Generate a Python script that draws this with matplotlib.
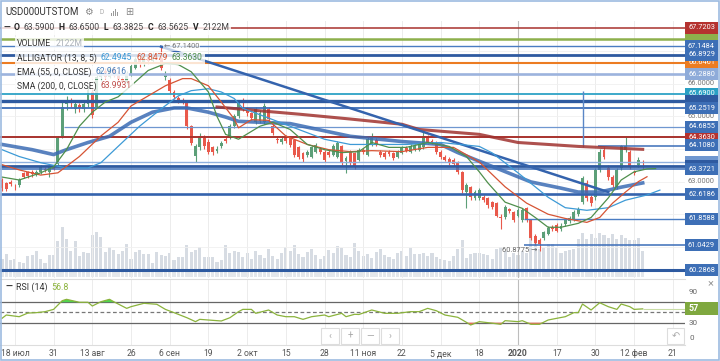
import matplotlib
matplotlib.use('Agg')
import numpy as np
import matplotlib.pyplot as plt
from matplotlib.patches import Rectangle
from matplotlib import transforms

plt.rcParams['font.family'] = ['Roboto', 'DejaVu Sans']

# daily candles USD000UTSTOM, 15 Jul 2019 .. 14 Feb 2020
opens = [
    63.05, 62.95, 62.98, 62.85, 62.90, 63.25, 63.28, 63.30, 63.22, 63.28,
    63.40, 63.30, 63.45, 63.55, 64.40, 65.38, 65.45, 65.23, 65.35, 65.23,
    65.38, 65.75, 65.30, 66.20, 66.38, 66.22, 66.45, 66.30, 66.15, 66.05,
    66.30, 66.50, 66.75, 66.60, 66.82, 66.70, 66.88, 66.80, 66.22, 66.12,
    65.75, 65.55, 65.50, 65.44, 64.70, 63.80, 64.05, 64.35, 64.23, 64.05,
    63.95, 64.08, 64.30, 64.35, 64.70, 65.00, 65.30, 65.20, 65.10, 64.82,
    64.85, 64.82, 65.23, 64.70, 64.32, 64.22, 64.34, 64.35, 64.28, 64.05,
    63.88, 63.82, 63.77, 63.92, 64.00, 63.92, 63.92, 63.83, 63.77, 64.08,
    63.62, 63.92, 63.88, 63.67, 63.98, 63.83, 64.14, 64.28, 63.92, 63.88,
    63.92, 63.88, 63.77, 63.88, 64.02, 63.92, 64.00, 63.98, 64.05, 64.36,
    64.25, 64.20, 63.92, 63.77, 63.70, 63.67, 63.58, 63.30, 62.68, 62.83,
    62.50, 62.50, 62.52, 62.49, 62.37, 62.33, 61.93, 61.90, 62.15, 62.06,
    61.96, 61.81, 62.18, 61.81, 61.34, 61.20, 61.28, 61.40, 61.62, 61.66,
    61.55, 61.70, 61.78, 61.85, 62.00, 62.37, 62.97, 62.52, 62.52, 63.36,
    63.98, 63.42, 63.14, 62.83, 63.42, 63.98, 63.92, 63.30, 63.52, 63.59,
]
highs = [
    63.10, 63.00, 63.05, 62.92, 63.10, 63.30, 63.33, 63.36, 63.35, 63.50,
    63.46, 63.52, 63.50, 64.40, 65.45, 65.62, 65.55, 65.45, 65.42, 65.45,
    65.90, 65.85, 66.30, 66.45, 66.48, 66.55, 66.52, 66.38, 66.22, 66.38,
    66.62, 66.82, 66.85, 66.92, 66.90, 66.98, 66.95, 67.14, 66.40, 66.18,
    65.82, 65.62, 65.58, 65.48, 64.75, 64.15, 64.48, 64.42, 64.30, 64.10,
    64.08, 64.26, 64.36, 64.76, 65.08, 65.45, 65.55, 65.28, 65.15, 65.30,
    65.20, 65.40, 65.28, 64.76, 64.40, 64.40, 64.42, 64.40, 64.32, 64.10,
    63.92, 63.96, 64.10, 64.20, 64.06, 63.96, 63.98, 64.14, 64.26, 64.12,
    63.78, 63.96, 63.92, 64.04, 64.04, 64.36, 64.50, 64.34, 63.98, 63.94,
    63.98, 63.92, 63.98, 64.08, 64.08, 64.14, 64.14, 64.20, 64.52, 64.42,
    64.30, 64.24, 63.96, 63.82, 63.75, 63.72, 63.62, 63.34, 62.96, 62.88,
    62.74, 62.80, 62.58, 62.54, 62.42, 62.38, 62.00, 62.28, 62.20, 62.10,
    62.18, 62.18, 62.22, 61.85, 61.40, 61.26, 61.50, 61.65, 61.68, 61.72,
    61.72, 61.88, 61.94, 62.12, 62.22, 63.18, 63.05, 62.60, 63.42, 64.00,
    64.05, 63.50, 63.20, 63.42, 64.12, 64.36, 63.98, 63.36, 63.74, 63.65,
]
lows = [
    62.72, 62.70, 62.88, 62.75, 62.85, 63.10, 63.12, 63.15, 63.18, 63.24,
    63.30, 63.14, 63.35, 63.50, 64.35, 65.20, 65.28, 65.10, 65.15, 65.15,
    65.30, 64.95, 65.25, 66.10, 66.15, 66.18, 66.22, 66.05, 65.95, 66.00,
    66.25, 66.45, 66.52, 66.55, 66.62, 66.65, 66.75, 66.42, 66.12, 65.70,
    65.52, 65.42, 65.38, 64.62, 64.12, 63.60, 63.98, 64.00, 63.85, 63.82,
    63.88, 64.02, 64.18, 64.30, 64.65, 64.95, 65.18, 65.02, 64.88, 64.78,
    64.80, 64.78, 64.85, 64.42, 64.20, 64.16, 64.18, 64.05, 63.76, 63.70,
    63.60, 63.76, 63.72, 63.88, 63.86, 63.60, 63.75, 63.78, 63.72, 63.50,
    63.27, 63.52, 63.40, 63.62, 63.84, 63.78, 64.08, 64.08, 63.76, 63.70,
    63.78, 63.66, 63.72, 63.84, 63.90, 63.88, 63.95, 63.94, 64.00, 64.16,
    64.16, 63.86, 63.70, 63.62, 63.52, 63.48, 63.24, 62.66, 62.18, 62.45,
    62.44, 62.45, 62.38, 62.20, 62.15, 61.90, 61.56, 61.85, 62.04, 61.76,
    61.90, 61.76, 61.75, 61.20, 61.05, 60.8775, 61.20, 61.35, 61.48, 61.44,
    61.50, 61.65, 61.72, 61.80, 61.95, 62.30, 62.40, 62.25, 62.45, 63.30,
    63.70, 63.05, 62.82, 62.76, 63.36, 63.90, 63.38, 63.20, 63.46, 63.3825,
]
closes = [
    62.80, 62.78, 62.94, 62.83, 63.05, 63.15, 63.18, 63.22, 63.30, 63.45,
    63.36, 63.48, 63.40, 64.35, 65.30, 65.50, 65.40, 65.38, 65.25, 65.38,
    65.80, 65.05, 66.20, 66.35, 66.22, 66.45, 66.30, 66.15, 66.05, 66.30,
    66.55, 66.75, 66.60, 66.85, 66.70, 66.90, 66.82, 66.50, 66.30, 65.78,
    65.60, 65.50, 65.45, 64.70, 64.20, 64.10, 64.40, 64.08, 63.92, 63.90,
    64.00, 64.20, 64.25, 64.70, 65.00, 65.40, 65.25, 65.10, 64.95, 65.23,
    65.12, 65.32, 64.92, 64.50, 64.28, 64.32, 64.25, 64.12, 63.83, 63.77,
    63.68, 63.90, 64.05, 64.13, 63.92, 63.67, 63.82, 64.08, 64.20, 63.58,
    63.72, 63.58, 63.45, 63.98, 63.90, 64.30, 64.36, 64.14, 63.83, 63.77,
    63.84, 63.73, 63.92, 64.02, 63.95, 64.08, 64.08, 64.14, 64.39, 64.23,
    64.22, 63.92, 63.77, 63.67, 63.58, 63.55, 63.30, 62.74, 62.90, 62.52,
    62.68, 62.74, 62.43, 62.27, 62.21, 61.96, 61.88, 62.21, 62.10, 61.81,
    62.12, 62.12, 61.81, 61.28, 61.12, 61.10, 61.44, 61.59, 61.55, 61.50,
    61.65, 61.81, 61.88, 62.06, 62.15, 63.10, 62.49, 62.33, 63.36, 63.92,
    63.77, 63.14, 62.90, 63.36, 64.08, 64.08, 63.45, 63.27, 63.67, 63.5625,
]
# volume, millions
volumes = [
    1270, 1800, 1170, 1270, 950, 850, 1590, 1700, 2120, 1270,
    850, 1700, 1700, 3180, 4660, 3390, 2120, 3180, 1590, 2010,
    1910, 3820, 4130, 3600, 2010, 2540, 2230, 1800, 2120, 2860,
    1270, 2010, 2230, 1800, 1800, 850, 2010, 1700, 1590, 1910,
    1170, 1480, 1480, 2760, 2010, 2230, 2540, 1480, 1480, 1480,
    950, 1170, 2760, 1910, 2120, 2010, 1480, 1910, 1270, 2120,
    1700, 1380, 2330, 1590, 1270, 1910, 2540, 2120, 2760, 1800,
    1480, 2010, 2330, 1700, 1270, 1590, 2230, 1910, 2650, 2440,
    1700, 1480, 2970, 2120, 1590, 1800, 1380, 2010, 2330, 1700,
    1480, 1270, 1910, 2120, 1590, 2440, 1800, 1800, 1910, 1590,
    1910, 1480, 1270, 1170, 1060, 1590, 2330, 3290, 1380, 1800,
    1910, 1910, 1800, 1700, 1270, 2330, 2540, 2120, 1480, 1910,
    1700, 2120, 1910, 3500, 2970, 2330, 2440, 2860, 2860, 2440,
    1910, 2120, 2230, 2330, 3390, 4030, 3390, 3920, 3500, 4030,
    3820, 3500, 3920, 3390, 3820, 3500, 3290, 3290, 3500, 2122,
]

tick_bars = [3, 12, 21, 30, 39, 48, 57, 66, 75, 84, 93, 102, 111, 120, 129, 138, 147, 156]
tick_labels = ['18 июл', '31', '13 авг', '26', '6 сен', '19', '2 окт', '15', '28',
               '11 ноя', '22', '5 дек', '18', '2020', '17', '30', '12 фев', '21']

# alligator lines (already shifted)
lips_bar = [0, 4, 9, 12, 15, 18, 21, 24, 27, 30, 34, 38, 41, 44, 48, 50, 52, 55, 60, 63,
            67, 71, 75, 79, 83, 86, 90, 94, 99, 104, 108, 111, 113, 117, 121, 124, 127,
            130, 134, 137, 141, 144, 147, 150, 152]
lips_val = [63.14, 63.05, 63.27, 63.45, 63.98, 64.70, 65.13, 65.44, 65.60, 65.94, 66.41,
            66.62, 66.59, 66.37, 65.75, 65.00, 64.45, 64.30, 64.70, 64.82, 64.60, 64.14,
            63.98, 63.89, 63.92, 64.20, 64.05, 64.05, 64.20, 64.08, 63.77, 63.30, 62.96,
            62.37, 62.18, 61.90, 61.60, 61.60, 61.72, 61.90, 62.50, 63.05, 63.30, 63.39, 63.40]
teeth_bar = [0, 4, 9, 13, 18, 23, 27, 30, 34, 38, 42, 44, 48, 51, 54, 55, 58, 62, 66, 71,
             76, 81, 86, 93, 99, 105, 111, 117, 122, 127, 131, 136, 139, 142, 145, 148, 150]
teeth_val = [63.52, 63.36, 63.20, 63.27, 63.77, 64.40, 64.82, 65.32, 65.63, 65.94, 66.16,
             66.16, 65.94, 65.44, 64.92, 64.65, 64.90, 64.88, 64.40, 64.14, 63.98, 63.92,
             63.95, 63.92, 64.05, 64.05, 63.60, 62.84, 62.34, 62.00, 61.87, 61.75, 61.90,
             62.34, 62.68, 63.00, 63.15]
jaw_bar = [0, 4, 9, 15, 20, 23, 27, 32, 37, 41, 44, 48, 51, 54, 56, 62, 67, 75, 81, 88,
           94, 102, 111, 114, 120, 127, 131, 136, 141, 145, 150, 153]
jaw_val = [63.98, 63.77, 63.58, 63.42, 63.42, 63.58, 64.08, 64.70, 65.23, 65.63, 65.79,
           65.85, 65.75, 65.55, 65.25, 64.95, 64.70, 64.30, 64.14, 64.14, 64.14, 64.20,
           64.08, 63.88, 63.27, 62.52, 62.20, 62.12, 62.20, 62.43, 62.59, 62.74]

ema_bar = [0, 7, 12, 15, 20, 25, 30, 35, 40, 43, 48, 52, 55, 67, 81, 93, 102, 106, 116,
           123, 130, 134, 139, 144, 149]
ema_val = [64.14, 63.98, 63.83, 63.98, 64.20, 64.39, 64.82, 65.13, 65.26, 65.26, 65.13,
           64.98, 64.85, 64.78, 64.39, 64.23, 64.14, 63.89, 63.36, 62.99, 62.80, 62.68,
           62.68, 62.83, 62.96]
sma_bar = [50, 55, 69, 81, 93, 97, 111, 120, 134, 149]
sma_val = [65.29, 65.23, 65.07, 64.92, 64.76, 64.60, 64.45, 64.20, 64.08, 63.99]

trend_bar = [37, 141]
trend_val = [67.14, 62.68]

# horizontal levels drawn by the user
level_price = [67.7203, 67.37, 67.1484, 66.8929, 66.6461, 66.2880, 65.69, 65.48, 65.2519,
               64.6855, 64.3630, 64.1080, 63.61, 63.49, 63.3721, 62.6186, 61.8588, 61.0429,
               60.2868]
level_from = [0, 0, 0, 0, 0, 0, 0, 0, 0, 15, 0, 139, 0, 0, 0, 0, 122, 122, 0]

rsi_bar = [0, 1, 4, 6, 8, 10, 12, 14, 15, 18, 20, 21, 23, 25, 26, 29, 30, 33, 36, 38,
           40, 43, 45, 46, 48, 51, 53, 55, 56, 58, 59, 62, 64, 66, 68, 70, 72, 75, 76, 79,
           80, 82, 83, 86, 89, 92, 95, 97, 99, 101, 103, 106, 108, 109, 111, 113, 116, 117,
           120, 121, 123, 125, 127, 129, 131, 133, 134, 135, 137, 139, 141, 143, 144, 146,
           147, 149]
rsi_val = [38.5, 45, 41.7, 48.8, 49.6, 51.5, 56, 73, 75.7, 69.9, 69.9, 62.6, 71, 75.7, 71,
           58, 61.3, 67.9, 66, 56, 49.6, 39.7, 32, 36.5, 35.2, 33.3, 39.7, 51.5, 56, 56,
           48.3, 54.8, 45, 41.7, 41.7, 36.5, 41.7, 45, 41.7, 48.3, 41.7, 46.4, 46, 54.8,
           48.3, 48.3, 51.5, 51.5, 58, 53.4, 45, 40.5, 30.7, 25.4, 32, 30, 26.8, 33.9, 32,
           33.9, 26.8, 26.8, 35.2, 38.5, 41.7, 49.6, 49.6, 66.5, 54.8, 69, 61.3, 56, 66.5,
           61.3, 56, 57]

# ---------------- layout (pixels of a 720x361 canvas) ----------------
W, H = 720, 361
PRICE_TOP, PRICE_BOT = 21, 278
RSI_TOP, RSI_BOT = 280, 345
RIGHT = 685
X0, BAR = 2, 4.3
PPU = 32.6  # pixels per rouble
XLIM = ((0 - X0) / BAR, (RIGHT - X0) / BAR)
YLIM = (64.108 - (PRICE_BOT - 145.5) / PPU, 64.108 + (145.5 - PRICE_TOP) / PPU)

GREEN_C, RED_C = '#5c9f78', '#e9594b'
JAW_C, TEETH_C, LIPS_C = '#3d9ad6', '#d65434', '#4f8f4c'
BLUE_BOX, DARK = '#3d6fb6', '#2e5aa0'


def fx(px):
    return px / W


def fy(py):
    return 1 - py / H


fig = plt.figure(figsize=(W / 100, H / 100), dpi=100)
fig.patch.set_facecolor('white')

ax_vol = fig.add_axes([0, fy(PRICE_BOT), fx(RIGHT), (PRICE_BOT - PRICE_TOP) / H])
ax = fig.add_axes([0, fy(PRICE_BOT), fx(RIGHT), (PRICE_BOT - PRICE_TOP) / H])
ax_rsi = fig.add_axes([0, fy(RSI_BOT), fx(RIGHT), (RSI_BOT - RSI_TOP) / H])
ax.patch.set_visible(False)

x = np.arange(len(closes))
o, hi, lo, c = (np.array(a) for a in (opens, highs, lows, closes))

# volume + navigator strip
ax_vol.bar(x, volumes, width=0.72, color='#d7dce3', linewidth=0)
ax_vol.bar(x, 530, bottom=-636, width=0.8, color='#e4e7eb', linewidth=0)
ax_vol.set_xlim(XLIM)
ax_vol.set_ylim(-742, (271 - PRICE_TOP) * 106)
ax_vol.set_axis_off()

# grid
for b in tick_bars:
    ax.axvline(b, color='#ececec', lw=0.7, zorder=0)
    ax_rsi.axvline(b, color='#ececec', lw=0.7, zorder=0)
for p in range(61, 68):
    ax.axhline(p, color='#f0f0f0', lw=0.6, zorder=0)
ax.axvline(120, color='#bdbdbd', lw=0.8, zorder=1)
ax_rsi.axvline(120, color='#bdbdbd', lw=0.8, zorder=1)

# candles
col = np.where(c >= o, GREEN_C, RED_C)
ax.vlines(x, lo, hi, colors=col, lw=0.8, zorder=3)
ax.bar(x, np.maximum(np.abs(c - o), 0.015), bottom=np.minimum(o, c), width=0.68,
       color=col, linewidth=0, zorder=3)

# horizontal levels
level_color = ['#a8322d', '#8db04c', '#4a7cc2', DARK, '#ec7c22', '#9cb3dd', '#2da2c6', DARK,
               '#3b6db8', '#6f97d0', '#a8322d', '#3b6db8', '#8fb0de', DARK, '#3b6db8',
               '#3463ad', '#4a7cc2', '#3b6db8', DARK]
level_lw = [1.1, 1.8, 1.0, 2.0, 1.5, 1.9, 1.3, 2.4, 1.3, 0.9, 1.4, 1.1, 1.0, 2.0, 1.1,
            1.9, 1.0, 1.1, 2.2]
for p, s, cc, lw in zip(level_price, level_from, level_color, level_lw):
    ax.hlines(p, s - 0.5, XLIM[1], color=cc, lw=lw, zorder=4)
ax.vlines(135, 64.06, 65.78, color='#5a86c6', lw=1.0, zorder=4)

# indicators
ax.plot(sma_bar, sma_val, color='#a0322f', lw=2.2, alpha=0.85, zorder=5)
ax.plot(ema_bar, ema_val, color='#3c6cb4', lw=2.6, alpha=0.85, zorder=5)
ax.plot(trend_bar, trend_val, color='#3463ad', lw=1.8, zorder=5)
ax.plot(jaw_bar, jaw_val, color=JAW_C, lw=0.9, zorder=6)
ax.plot(teeth_bar, teeth_val, color=TEETH_C, lw=0.9, zorder=6)
ax.plot(lips_bar, lips_val, color=LIPS_C, lw=0.9, zorder=6)

ax.text(37.6, 67.14, '← 67.1400', fontsize=5.4, color='#777', va='center', ha='left', zorder=7,
        bbox=dict(boxstyle='square,pad=0.1', fc='white', ec='none', alpha=0.7))
ax.text(124.4, 60.8775, '60.8775 →', fontsize=5.4, color='#666', va='center', ha='right', zorder=7)

ax.set_xlim(XLIM)
ax.set_ylim(YLIM)
ax.set_axis_off()

# price labels on the right
blend = transforms.blended_transform_factory(fig.transFigure, ax.transData)
for p in (66, 65, 63):
    ax.text(fx(688), p, f'{p:.4f}', transform=blend, fontsize=5.4, color='#777',
            va='center', ha='left', clip_on=False, zorder=8)
box_h = 12 / PPU
boxes = [(67.37, '#8db04c', ''), (67.7203, '#b5322f', '67.7203'), (67.1484, BLUE_BOX, '67.1484'),
         (66.6461, '#ec7c22', '66.6461'), (66.8929, BLUE_BOX, '66.8929'),
         (66.2880, '#8eabd9', '66.2880'), (65.69, '#2aa0c4', '65.6900'), (65.48, DARK, ''),
         (65.2519, BLUE_BOX, '65.2519'), (64.3630, '#b5322f', '64.3630'),
         (64.6855, BLUE_BOX, '64.6855'), (64.1080, BLUE_BOX, '64.1080'),
         (63.61, '#6f97d0', ''), (63.49, DARK, ''), (63.3721, BLUE_BOX, '63.3721'),
         (62.6186, BLUE_BOX, '62.6186'), (61.8588, BLUE_BOX, '61.8588'),
         (61.0429, BLUE_BOX, '61.0429'), (60.2868, BLUE_BOX, '60.2868')]
for k, (p, cc, t) in enumerate(boxes):
    z = 9 + k * 0.01
    ax.add_patch(Rectangle((fx(RIGHT), p - box_h / 2), fx(33), box_h, transform=blend,
                           facecolor=cc, edgecolor='none', clip_on=False, zorder=z))
    if t:
        ax.text(fx(RIGHT + 16.5), p, t, transform=blend, fontsize=5.3, color='white',
                va='center', ha='center', clip_on=False, zorder=z + 0.001)

# RSI panel
rb, rv = np.array(rsi_bar), np.array(rsi_val)
ax_rsi.axhline(70, color='#666', lw=0.9, zorder=2)
ax_rsi.axhline(30, color='#666', lw=0.9, zorder=2)
ax_rsi.axhline(50, color='#777', lw=0.9, ls=(0, (3, 2)), zorder=2)
ax_rsi.fill_between(rb, rv, 70, where=rv > 70, interpolate=True, color='#4fd64f', lw=0, zorder=3)
ax_rsi.fill_between(rb, rv, 30, where=rv < 30, interpolate=True, color='#e8685a', lw=0, zorder=3)
ax_rsi.plot(rb, rv, color='#8bb33c', lw=0.9, zorder=4)
ax_rsi.hlines(57, 149, XLIM[1], color='#c9dca6', lw=0.8, zorder=4)
ax_rsi.set_xlim(XLIM)
ax_rsi.set_ylim((338 - RSI_BOT) / 0.511, (338 - RSI_TOP) / 0.511)
for s in ax_rsi.spines.values():
    s.set_visible(False)
ax_rsi.spines['bottom'].set_visible(True)
ax_rsi.spines['bottom'].set_color('#dddddd')
ax_rsi.set_yticks([])
ax_rsi.set_xticks(tick_bars)
ax_rsi.set_xticklabels(tick_labels, fontsize=6.2, color='#555')
ax_rsi.tick_params(axis='x', length=0, pad=3)
ax_rsi.get_xticklabels()[13].set_fontweight('bold')

rblend = transforms.blended_transform_factory(fig.transFigure, ax_rsi.transData)
for v in (90, 30, 0):
    ax_rsi.text(fx(689), v, str(v), transform=rblend, fontsize=5.8, color='#666',
                va='center', ha='left', clip_on=False)
rsi_box = 13 / 0.511
ax_rsi.add_patch(Rectangle((fx(RIGHT), 57 - rsi_box / 2), fx(33), rsi_box, transform=rblend,
                           facecolor='#7fa83f', edgecolor='none', clip_on=False, zorder=9))
ax_rsi.text(fx(689), 57, '57', transform=rblend, fontsize=6.4, color='white', fontweight='bold',
            va='center', ha='left', clip_on=False, zorder=10)

# legends
renderer = fig.canvas.get_renderer()


def legend_row(x_px, y_px, parts, size=6.2, bg=True):
    start = x_px
    for text, color, weight in parts:
        t = fig.text(fx(x_px), fy(y_px), text, fontsize=size, color=color, fontweight=weight,
                     va='center', ha='left', zorder=21)
        x_px += t.get_window_extent(renderer).width + 4
    if bg:
        fig.add_artist(Rectangle((fx(start - 2), fy(y_px + 6.5)), fx(x_px - start), 13 / H,
                                 transform=fig.transFigure, facecolor='white', alpha=0.8,
                                 edgecolor='none', zorder=20))


legend_row(3, 28, [('—', '#333', 'bold'), ('O', '#222', 'bold'), ('63.5900', '#444', 'normal'),
                   ('H', '#222', 'bold'), ('63.6500', '#444', 'normal'), ('L', '#222', 'bold'),
                   ('63.3825', '#444', 'normal'), ('C', '#222', 'bold'), ('63.5625', '#444', 'normal'),
                   ('V', '#222', 'bold'), ('2122M', '#444', 'normal')])
legend_row(17, 43, [('VOLUME', '#333', 'normal'), ('2122M', '#aab0b8', 'normal')])
legend_row(17, 58, [('ALLIGATOR (13, 8, 5)', '#333', 'normal'), ('62.4945', JAW_C, 'normal'),
                    ('62.8479', TEETH_C, 'normal'), ('63.3630', LIPS_C, 'normal')])
legend_row(17, 72, [('EMA (55, 0, CLOSE)', '#333', 'normal'), ('62.9616', '#4a7ebb', 'normal')])
legend_row(17, 86, [('SMA (200, 0, CLOSE)', '#333', 'normal'), ('63.9931', '#c0504d', 'normal')])
legend_row(5, 287, [('—', '#333', 'bold'), ('RSI (14)', '#333', 'normal'), ('56.8', '#8bb33c', 'normal')],
           size=6.4, bg=False)

# header
fig.text(fx(5), fy(12), 'USD000UTSTOM', fontsize=7, color='#333', va='center')
fig.text(fx(84), fy(12), '⚙', fontsize=7, color='#888', va='center')
fig.text(fx(100), fy(12.5), 'D', fontsize=4.8, color='#aaa', va='center')
for i, hh in enumerate([3, 5, 7, 4]):
    fig.add_artist(Rectangle((fx(111 + 2 * i), fy(16)), fx(1.2), hh / H, transform=fig.transFigure,
                             facecolor='#999', edgecolor='none'))
fig.text(fx(125), fy(12), '⊞', fontsize=7, color='#888', va='center')

# panel separator, nav buttons, close/reset icons
fig.add_artist(plt.Line2D([0, fx(RIGHT)], [fy(279), fy(279)], color='#dcdcdc', lw=0.8))
for i, sym in enumerate(['‹', '+', '—', '›']):
    bx = 320 + 20 * i
    fig.add_artist(Rectangle((fx(bx + 1), fy(344)), fx(18), 16 / H, transform=fig.transFigure,
                             facecolor='white', edgecolor='#dddddd', lw=0.8, zorder=15))
    fig.text(fx(bx + 10), fy(336), sym, fontsize=7, color='#aaa', ha='center', va='center', zorder=16)
fig.add_artist(Rectangle((fx(667), fy(344)), fx(17), 16 / H, transform=fig.transFigure,
                         facecolor='white', edgecolor='#dddddd', lw=0.8, zorder=15))
fig.text(fx(675.5), fy(336), '↶', fontsize=7, color='#aaa', ha='center', va='center', zorder=16)
fig.text(fx(711), fy(283), '×', fontsize=8, color='#999', ha='center', va='center')

fig.add_artist(Rectangle((0.001, 0.002), 0.997, 0.995, transform=fig.transFigure, fill=False,
                         edgecolor='#9dbbe0', lw=1.2, zorder=30))

fig.savefig('out.png', dpi=100)
